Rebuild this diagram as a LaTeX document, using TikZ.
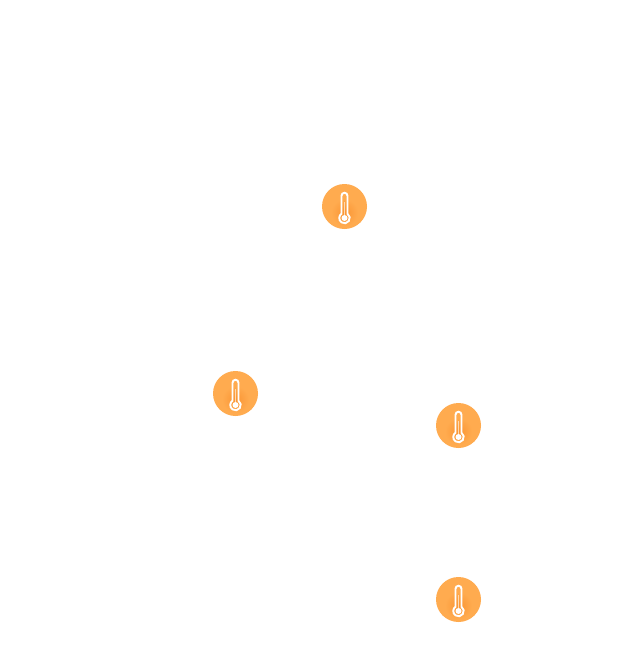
\documentclass[tikz,border=0pt]{standalone}
\usetikzlibrary{positioning,calc}
\definecolor{sensororange}{HTML}{FFAB4F}
\definecolor{sensorshade}{HTML}{FA9534}
\definecolor{stemtint}{HTML}{FFD9B0}
\tikzset{
  sensor/.style={circle,fill=sensororange,draw=none,minimum size=0.9cm,inner sep=0pt},
  tube/.style={draw=white,line width=1.1pt},
  pics/thermo/.style={code={
    \shade[inner color=sensorshade,outer color=sensororange] (0,-0.12) circle (0.27);
    \draw[tube] (-0.06,0.215) arc (180:0:0.06) -- (0.06,-0.145)
      arc (55:-235:0.105) -- cycle;
    \fill[stemtint] (-0.016,0.1) rectangle (0.016,-0.2);
    \fill[white] (0,-0.23) circle (0.06);
  }}
}
\begin{document}
\begin{tikzpicture}
    \useasboundingbox (0,0) rectangle (12.34,-13.36);
    % one disc per sensor
    \foreach \name/\x/\y in {top/6.89/-4.13,left/4.71/-7.87,midright/9.17/-8.51,lowright/9.17/-11.99} {
      \node[sensor] (\name) at (\x,\y) {};
      \pic at (\name) {thermo};
    }
\end{tikzpicture}
\end{document}
